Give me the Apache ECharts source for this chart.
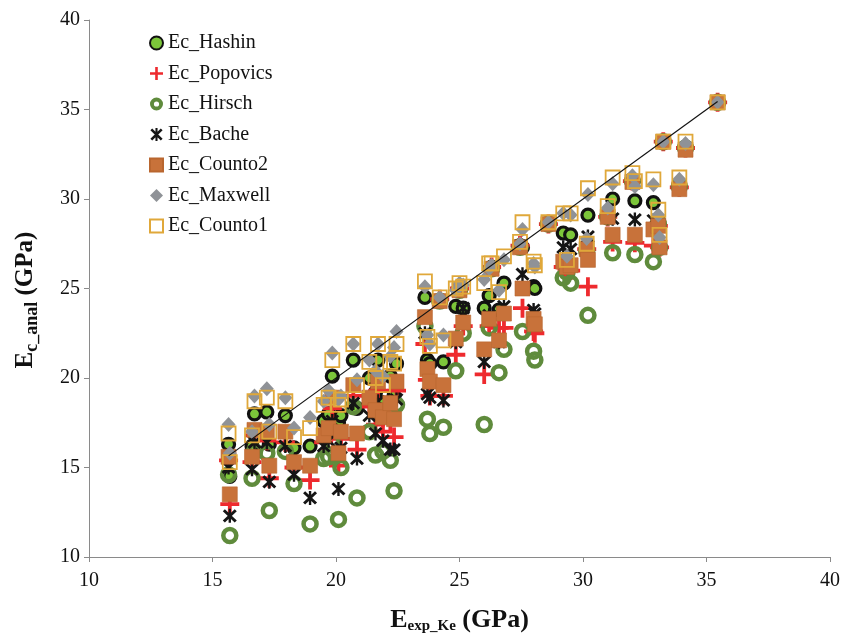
<!DOCTYPE html>
<html>
<head>
<meta charset="utf-8">
<script src="https://cdn.jsdelivr.net/npm/echarts@6/dist/echarts.min.js"></script>
<style>
  html, body { margin: 0; padding: 0; background: #fff; }
  #main { width: 846px; height: 639px; }
</style>
</head>
<body>
<div id="main"></div>
<script>
// measured modulus per specimen (x) and the seven model estimates (y)
var eExp    = [15.65, 15.7, 16.6, 16.7, 17.2, 17.3, 17.95, 18.3, 18.95, 19.5, 19.7, 19.85, 20.1, 20.2, 20.7, 20.85,
               21.35, 21.6, 21.7, 21.9, 22.2, 22.35, 22.45, 23.6, 23.7, 23.8, 24.2, 24.35, 24.85, 25.0, 25.15,
               26.0, 26.2, 26.3, 26.6, 26.8, 27.45, 27.55, 28.0, 28.05, 28.6, 29.2, 29.35, 29.5, 30.15, 30.2,
               31.0, 31.2, 32.0, 32.1, 32.85, 33.05, 33.1, 33.25, 33.9, 34.15, 35.45];
var hashin  = [16.3, 14.5, 16.2, 18.0, 18.1, 16.3, 17.9, 16.1, 16.2, 17.6, 18.0, 20.1, 17.5, 17.9, 21.0, 18.3,
               20.0, 19.2, 21.0, 18.6, 20.1, 19.0, 20.8, 24.5, 21.0, 20.8, 24.3, 20.9, 24.0, 25.0, 23.9,
               23.9, 24.6, 26.2, 23.8, 25.3, 27.4, 27.3, 25.1, 25.0, 28.6, 28.1, 26.4, 28.0, 27.3, 29.1,
               29.1, 30.0, 31.1, 29.9, 29.8, 28.8, 27.4, 33.2, 30.8, 32.9, 35.4];
var popovics = [15.4, 12.95, 15.3, 16.8, 16.5, 14.4, 16.4, 15.0, 14.3, 16.4, 16.9, 18.3, 15.1, 16.6, 19.0, 16.0,
               18.4, 17.4, 19.3, 17.0, 17.6, 16.7, 19.3, 21.9, 19.9, 19.0, 24.4, 19.0, 21.3, 25.0, 22.9,
               20.2, 22.9, 26.2, 22.8, 22.8, 27.4, 23.9, 22.6, 22.5, 28.6, 26.2, 26.1, 26.0, 27.2, 25.1,
               29.0, 27.6, 31.0, 27.55, 27.4, 28.5, 27.3, 33.2, 30.65, 32.85, 35.4];
var hirsch  = [14.6, 11.2, 14.4, 15.9, 15.8, 12.6, 15.9, 14.1, 11.85, 15.5, 15.6, 16.4, 12.1, 15.0, 18.4, 13.3,
               17.0, 15.7, 18.2, 15.9, 15.4, 13.7, 18.5, 22.9, 17.7, 16.9, 24.3, 17.25, 20.4, 24.9, 22.5,
               17.4, 22.8, 26.1, 20.3, 21.6, 27.3, 22.6, 21.5, 21.0, 28.6, 25.6, 25.9, 25.3, 27.1, 23.5,
               29.0, 27.0, 31.0, 26.9, 26.5, 28.6, 27.3, 33.2, 30.7, 32.85, 35.4];
var bache   = [15.0, 12.3, 14.9, 16.4, 16.4, 14.2, 16.2, 14.6, 13.3, 16.2, 16.5, 17.6, 13.8, 16.1, 18.6, 15.5,
               17.9, 16.9, 18.7, 16.5, 16.0, 16.0, 18.8, 22.5, 19.1, 18.9, 24.3, 18.75, 22.0, 24.9, 23.9,
               20.9, 23.5, 26.1, 22.0, 24.0, 27.4, 25.8, 23.8, 23.6, 28.6, 27.3, 26.3, 27.2, 27.3, 27.9,
               29.0, 28.9, 31.0, 28.85, 28.8, 28.5, 27.3, 33.2, 30.6, 32.8, 35.4];
var counto2 = [15.6, 13.5, 15.6, 17.1, 17.0, 15.1, 17.0, 15.3, 15.1, 16.8, 17.2, 18.9, 15.8, 17.0, 19.6, 16.9,
               18.9, 18.2, 19.8, 17.8, 18.6, 17.7, 19.8, 23.4, 20.5, 19.8, 24.3, 19.6, 22.2, 24.9, 23.1,
               21.6, 23.3, 26.1, 22.1, 23.6, 27.3, 25.0, 23.3, 23.0, 28.6, 26.5, 26.2, 26.3, 27.2, 26.6,
               29.0, 28.0, 30.95, 28.0, 28.3, 28.5, 27.3, 33.2, 30.55, 32.75, 35.4];
var maxwell = [17.4, 15.8, 17.0, 19.0, 19.4, 17.4, 18.9, 17.2, 17.8, 18.7, 19.3, 21.4, 18.8, 19.0, 21.9, 19.9,
               21.0, 20.4, 21.9, 20.1, 21.2, 21.7, 22.6, 25.1, 22.4, 21.9, 24.5, 22.4, 24.9, 25.3, 25.2,
               25.5, 26.1, 26.3, 24.9, 26.6, 27.5, 28.3, 26.4, 26.2, 28.7, 29.2, 26.8, 29.1, 27.8, 30.25,
               29.5, 30.85, 31.3, 30.7, 30.8, 29.1, 27.85, 33.2, 31.1, 33.1, 35.4];
var counto1 = [16.9, 15.3, 16.8, 18.7, 18.9, 17.0, 18.7, 16.7, 17.2, 18.5, 18.9, 21.0, 18.5, 18.8, 21.9, 19.6,
               20.9, 20.0, 21.9, 19.6, 20.9, 20.8, 21.9, 25.4, 22.3, 21.8, 24.5, 22.1, 25.0, 25.3, 25.1,
               25.3, 26.4, 26.4, 24.8, 26.8, 27.6, 28.7, 26.5, 26.3, 28.7, 29.2, 26.6, 29.2, 27.5, 30.6,
               29.6, 31.2, 31.45, 31.0, 31.1, 29.4, 28.0, 33.2, 31.2, 33.2, 35.4];
// 1:1 reference line
var lineX = [15.65, 35.45];

var axisTicks = [10, 15, 20, 25, 30, 35, 40];

function pairs(ys) {
    return eExp.map(function (x, i) { return [x, ys[i]]; });
}

var serif = '"Liberation Serif", "Times New Roman", serif';
var plusPath = 'path://M4,0H6V4H10V6H6V10H4V6H0V4H4Z';
var starPath = 'path://M4.2,0L5.8,0L5.8,10L4.2,10Z' +
               'M0.3,1.7L1.7,0.3L9.7,8.3L8.3,9.7Z' +
               'M8.3,0.3L9.7,1.7L1.7,9.7L0.3,8.3Z';
var ringPath = 'path://M0,5A5,5 0 1,0 10,5A5,5 0 1,0 0,5Z' +
               'M3,5A2,2 0 1,1 7,5A2,2 0 1,1 3,5Z';

var chart = echarts.init(document.getElementById('main'));

var titleRich = {
    b: { fontFamily: serif, fontSize: 26, fontWeight: 'bold', color: '#111' },
    s: { fontFamily: serif, fontSize: 15, fontWeight: 'bold', color: '#111', padding: [12, 0, 0, 0] }
};

var option = {
    animation: false,
    backgroundColor: '#fff',
    grid: { left: 89, right: 16, top: 20, bottom: 79 },
    legend: {
        orient: 'vertical',
        left: 149,
        top: 33,
        padding: 0,
        itemGap: 10.5,
        itemWidth: 13,
        itemHeight: 13,
        textStyle: { fontFamily: serif, fontSize: 20, color: '#111' },
        data: [
            'Ec_Hashin', 'Ec_Popovics',
            { name: 'Ec_Hirsch', icon: ringPath, itemStyle: { color: '#5f8b3c', borderWidth: 0 } },
            'Ec_Bache', 'Ec_Counto2', 'Ec_Maxwell', 'Ec_Counto1'
        ]
    },
    xAxis: {
        type: 'value',
        min: axisTicks[0],
        max: axisTicks[axisTicks.length - 1],
        interval: 5,
        splitLine: { show: false },
        axisLine: { lineStyle: { color: '#8a8a8a', width: 1 } },
        axisTick: { lineStyle: { color: '#8a8a8a' }, length: 5 },
        axisLabel: { fontFamily: serif, fontSize: 20, color: '#111', margin: 14 },
        name: '{b|E}{s|exp_Ke}{b| (GPa)}',
        nameLocation: 'middle',
        nameGap: 50,
        nameTextStyle: { rich: titleRich }
    },
    yAxis: {
        type: 'value',
        min: 10,
        max: 40,
        interval: 5,
        splitLine: { show: false },
        axisLine: { show: true, lineStyle: { color: '#8a8a8a', width: 1 } },
        axisTick: { show: true, lineStyle: { color: '#8a8a8a' }, length: 5 },
        axisLabel: { fontFamily: serif, fontSize: 20, color: '#111', margin: 9 }
    },
    graphic: [{
        type: 'text',
        x: 26,
        y: 300,
        rotation: Math.PI / 2,
        style: {
            text: '{b|E}{s|c_anal}{b| (GPa)}',
            align: 'center',
            verticalAlign: 'middle',
            rich: {
                b: { fontFamily: serif, fontSize: 25, fontWeight: 'bold', fill: '#111' },
                s: { fontFamily: serif, fontSize: 18, fontWeight: 'bold', fill: '#111', padding: [12, 0, 0, 0] }
            }
        }
    }],
    series: [
        {
            name: 'Ec_Hashin', type: 'scatter', data: pairs(hashin),
            symbol: 'circle', symbolSize: 12,
            itemStyle: { color: '#7cc63a', borderColor: '#111', borderWidth: 3.2, opacity: 1 }
        },
        {
            name: 'Ec_Popovics', type: 'scatter', data: pairs(popovics),
            symbol: plusPath, symbolSize: 19,
            itemStyle: { color: '#ee2a2e', opacity: 1 }
        },
        {
            name: 'Ec_Hirsch', type: 'scatter', data: pairs(hirsch),
            symbol: 'circle', symbolSize: 13,
            itemStyle: { color: 'rgba(255,255,255,0)', borderColor: '#5f8b3c', borderWidth: 4.5, opacity: 1 }
        },
        {
            name: 'Ec_Bache', type: 'scatter', data: pairs(bache),
            symbol: starPath, symbolSize: 14,
            itemStyle: { color: '#151515', opacity: 1 }
        },
        {
            name: 'Ec_Counto2', type: 'scatter', data: pairs(counto2),
            symbol: 'rect', symbolSize: 15,
            itemStyle: { color: '#c8723a', borderColor: '#b9662f', borderWidth: 0.6, opacity: 1 }
        },
        {
            name: 'Ec_Maxwell', type: 'scatter', data: pairs(maxwell),
            symbol: 'diamond', symbolSize: [14, 15],
            itemStyle: { color: '#8f9297', opacity: 1 }
        },
        {
            name: 'Ec_Counto1', type: 'scatter', data: pairs(counto1),
            symbol: 'rect', symbolSize: 14,
            itemStyle: { color: 'rgba(255,255,255,0)', borderColor: '#e0a83a', borderWidth: 1.8, opacity: 1 }
        },
        {
            name: 'line', type: 'line', z: 5,
            data: lineX.map(function (v) { return [v, v]; }),
            symbol: 'none',
            lineStyle: { color: '#111', width: 1.2 },
            silent: true
        }
    ]
};

chart.setOption(option);
</script>
</body>
</html>
